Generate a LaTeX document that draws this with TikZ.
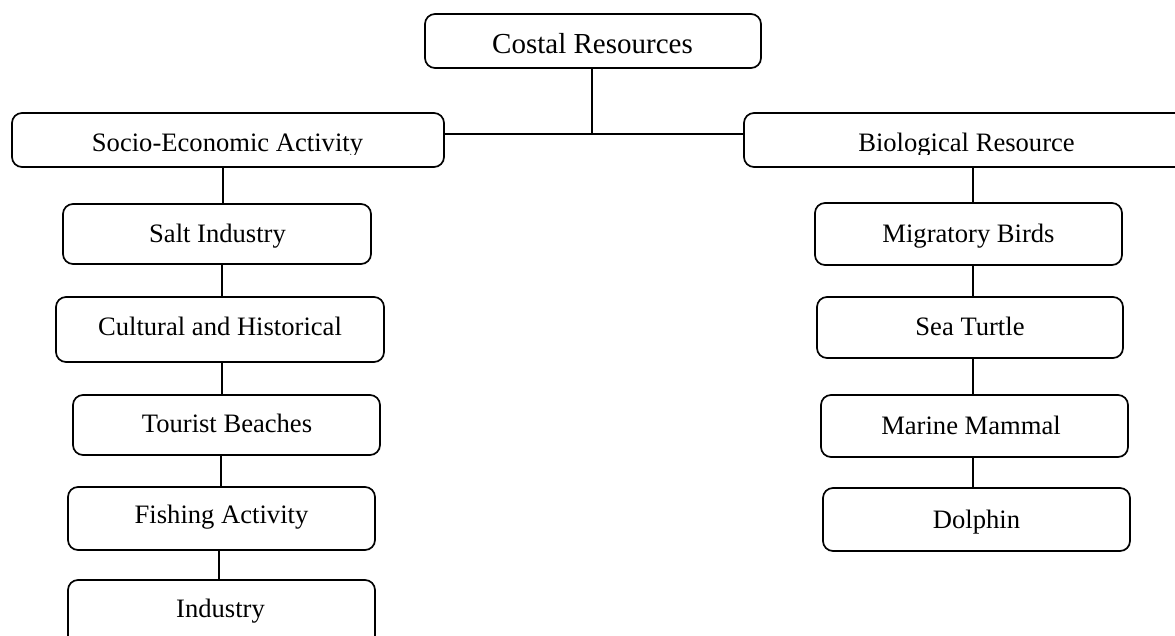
\documentclass[tikz,border=0pt]{standalone}
\usepackage{fontspec}
\setmainfont{Liberation Serif}
\begin{document}
\begin{tikzpicture}[x=1pt,y=-1pt,
  box/.style={draw=black, line width=1.7pt, rounded corners=10pt, inner sep=0pt, fill=none},
  conn/.style={draw=black, line width=1.4pt},
  lbl/.style={anchor=base, inner sep=0pt, font=\fontsize{26.6}{30}\selectfont},
  toplbl/.style={anchor=base, inner sep=0pt, font=\fontsize{29}{33}\selectfont}]
\useasboundingbox (0,0) rectangle (1175,635);
\clip (0,0) rectangle (1175,635);
% boxes (x1,y1)-(x2,y2)
\newcommand{\mybox}[5]{\node[box, minimum width={#4-#2}, minimum height={#5-#3}] (#1) at ({(#2+#4)/2},{(#3+#5)/2}) {};}
\mybox{top}{425}{14}{761}{68}
\mybox{socio}{12}{113}{444}{167}
\mybox{bio}{744}{113}{1190}{167}
\mybox{salt}{63}{204}{371}{264}
\mybox{cult}{56}{297}{384}{362}
\mybox{tour}{73}{395}{380}{455}
\mybox{fish}{68}{487}{375}{550}
\mybox{ind}{68}{580}{375}{660}
\mybox{mig}{815}{203}{1122}{265}
\mybox{sea}{817}{297}{1123}{358}
\mybox{mar}{821}{395}{1128}{457}
\mybox{dol}{823}{488}{1130}{551}
% texts
\node[toplbl] (ttop) at (592.5,53) {Costal Resources};
\begin{scope}
\clip (0,0) rectangle (1175,154);
\node[lbl] (tsocio) at (227.5,151) {Socio-Economic Activity};
\node[lbl] (tbio) at (966.5,151) {Biological Resource};
\end{scope}
\node[lbl] (tsalt) at (217.5,242) {Salt Industry};
\node[lbl] (tcult) at (220,335) {Cultural and Historical};
\node[lbl] (ttour) at (227,432) {Tourist Beaches};
\node[lbl] (tfish) at (221.5,523) {Fishing Activity};
\node[lbl] (tind) at (220.5,617) {Industry};
\node[lbl] (tmig) at (968.5,242) {Migratory Birds};
\node[lbl] (tsea) at (970,335) {Sea Turtle};
\node[lbl] (tmar) at (971,434) {Marine Mammal};
\node[lbl] (tdol) at (976.5,528) {Dolphin};
% connector x positions
\coordinate (xtop) at (592,0);
\coordinate (xa) at (223,0);
\coordinate (xb) at (222,0);
\coordinate (xc) at (221,0);
\coordinate (xd) at (219,0);
\coordinate (xr) at (973,0);
\coordinate (jy) at (0,134);
% connectors
\draw[conn] (top.south -| xtop) -- (jy -| xtop);
\draw[conn] (socio.east |- jy) -- (bio.west |- jy);
\draw[conn] (socio.south -| xa) -- (salt.north -| xa);
\draw[conn] (salt.south -| xb) -- (cult.north -| xb);
\draw[conn] (cult.south -| xb) -- (tour.north -| xb);
\draw[conn] (tour.south -| xc) -- (fish.north -| xc);
\draw[conn] (fish.south -| xd) -- (ind.north -| xd);
\draw[conn] (bio.south -| xr) -- (mig.north -| xr);
\draw[conn] (mig.south -| xr) -- (sea.north -| xr);
\draw[conn] (sea.south -| xr) -- (mar.north -| xr);
\draw[conn] (mar.south -| xr) -- (dol.north -| xr);
\end{tikzpicture}
\end{document}
